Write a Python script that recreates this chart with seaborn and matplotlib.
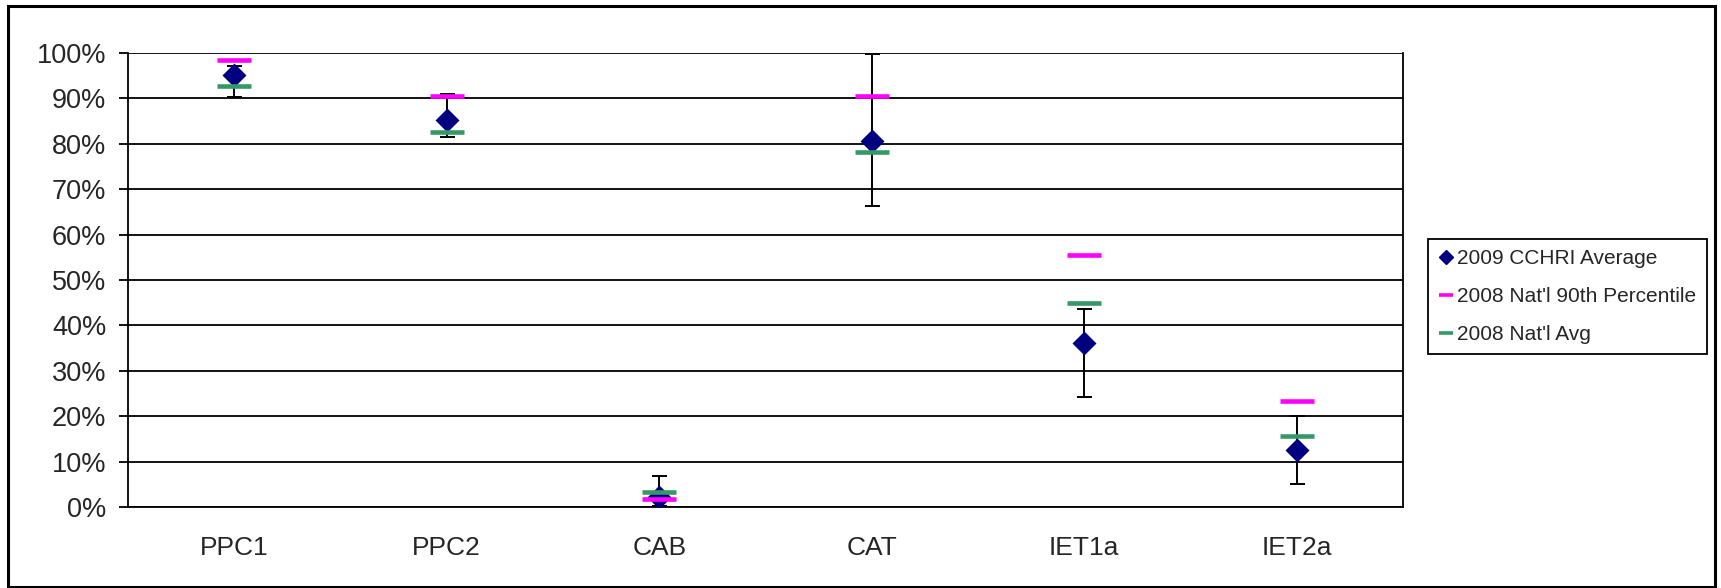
import numpy as np
import pandas as pd
import seaborn as sns
import matplotlib.pyplot as plt
from matplotlib.lines import Line2D
from matplotlib.patches import Rectangle
from matplotlib.ticker import FixedLocator

categories = ["PPC1", "PPC2", "CAB", "CAT", "IET1a", "IET2a"]
cchri_avg = [95.2, 85.2, 2.1, 80.6, 36.1, 12.6]
cchri_low = [90.2, 81.6, 0.2, 66.4, 24.2, 5.0]
cchri_high = [97.1, 91.0, 6.8, 99.7, 43.6, 20.1]
natl_90th = [98.5, 90.6, 1.7, 90.5, 55.4, 23.3]
natl_avg = [92.7, 82.6, 3.2, 78.3, 45.0, 15.7]

navy = "#000080"
magenta = "#FF00FF"
green = "#339966"

sns.set_style("white")
plt.rcParams["font.family"] = ["Liberation Sans", "DejaVu Sans"]

W, H = 1721, 588
fig = plt.figure(figsize=(W / 100, H / 100), dpi=100)
ax = fig.add_axes([128 / W, 1 - 507 / H, (1403 - 128) / W, (507 - 53) / H])

# error bars for the CCHRI average
x = np.arange(len(categories))
avg = np.array(cchri_avg)
yerr = [avg - np.array(cchri_low), np.array(cchri_high) - avg]
ax.errorbar(x, avg, yerr=yerr, fmt="none", ecolor="black", elinewidth=1.4,
            capsize=5.4, capthick=1.4, zorder=3, clip_on=False)

sns.pointplot(x=categories, y=cchri_avg, ax=ax, linestyle="none", marker="D",
              markersize=10.5, color=navy, errorbar=None, zorder=4)
sns.pointplot(x=categories, y=natl_90th, ax=ax, linestyle="none", marker="_",
              markersize=24, markeredgewidth=3.3, color=magenta, errorbar=None, zorder=5)
sns.pointplot(x=categories, y=natl_avg, ax=ax, linestyle="none", marker="_",
              markersize=24, markeredgewidth=3.3, color=green, errorbar=None, zorder=6)

ax.set_xlim(-0.5, len(categories) - 0.5)
ax.set_ylim(0, 100)
ax.set_yticks(np.arange(0, 101, 10))
ax.set_yticklabels([f"{v}%" for v in range(0, 101, 10)], fontsize=19.5)
ax.set_xticks(x)
ax.set_xticklabels(categories, fontsize=19)
ax.xaxis.set_minor_locator(FixedLocator(np.arange(-0.5, len(categories), 1.0)))
ax.tick_params(axis="x", which="major", length=0, pad=21)
ax.tick_params(axis="x", which="minor", length=6.3, width=1.3, direction="out", color="black")
ax.tick_params(axis="y", length=6.5, width=1.3, direction="out", color="black", pad=9, left=True)
ax.grid(axis="y", color="black", linewidth=1.3)
ax.set_axisbelow(True)
ax.set_xlabel("")
ax.set_ylabel("")
for s in ax.spines.values():
    s.set_color("black")
    s.set_linewidth(1.3)
ax.spines["top"].set_visible(False)

handles = [
    Line2D([], [], linestyle="none", marker="D", markersize=7.5, color=navy),
    Line2D([], [], linestyle="none", marker="_", markersize=9.5, markeredgewidth=2.6, color=magenta),
    Line2D([], [], linestyle="none", marker="_", markersize=9.5, markeredgewidth=2.6, color=green),
]
labels = ["2009 CCHRI Average", "2008 Nat'l 90th Percentile", "2008 Nat'l Avg"]
leg = fig.legend(handles, labels, loc="upper left", bbox_to_anchor=(1428 / W, 1 - 239 / H),
                 fontsize=15, frameon=True, fancybox=False, edgecolor="black", framealpha=1,
                 handlelength=0.7, handletextpad=0.2, labelspacing=0.9, borderpad=0.5,
                 borderaxespad=0)
leg.get_frame().set_linewidth(1.3)

fig.patches.append(Rectangle((8 / W, 1.5 / H), (1715 - 8) / W, (582 - 1.5) / H, transform=fig.transFigure,
                             fill=False, edgecolor="black", linewidth=2.2))

fig.savefig("out.png", dpi=100)
